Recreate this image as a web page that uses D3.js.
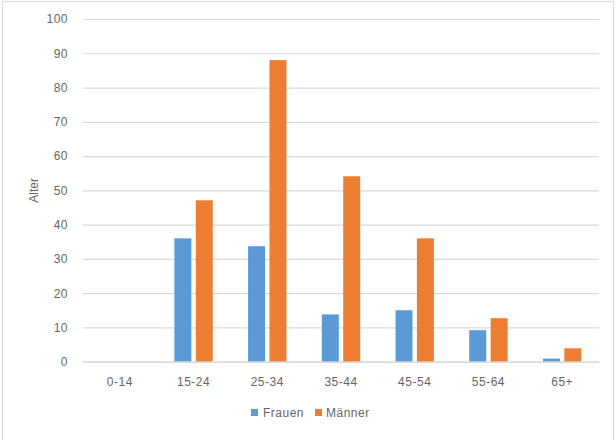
<!DOCTYPE html>
<html>
<head>
<meta charset="utf-8">
<script src="https://cdn.jsdelivr.net/npm/d3@7"></script>
<style>
  html, body { margin: 0; padding: 0; background: #fff; }
  svg { display: block; }
  text { font-family: "Liberation Sans", Arial, sans-serif; fill: #666; }
</style>
</head>
<body>
<svg id="chart" width="616" height="440"></svg>
<script>
const categories = ["0-14", "15-24", "25-34", "35-44", "45-54", "55-64", "65+"];
const seriesNames = ["Frauen", "Männer"];
const frauen = [0, 36, 33.7, 13.8, 15, 9.2, 0.9];
const maenner = [0, 47.1, 88, 54.1, 36, 12.7, 3.9];
const yTicks = [0, 10, 20, 30, 40, 50, 60, 70, 80, 90, 100];
const colors = ["#5b9bd5", "#ed7d31"];

(function () {
const svg = d3.select("#chart");

// outer border (bottom edge falls outside the visible area, as in the reference)
svg.append("rect")
  .attr("x", 2.5).attr("y", 1.5).attr("width", 611).attr("height", 445)
  .attr("fill", "none").attr("stroke", "#d9d9d9").attr("stroke-width", 1);

const plotLeft = 83, plotRight = 599, plotTop = 19, plotBottom = 361.7;

const x = d3.scaleBand().domain(categories).range([plotLeft, plotRight]).paddingInner(0).paddingOuter(0);
const groupW = 38.4;
const x1 = d3.scaleBand().domain(seriesNames)
  .range([(x.bandwidth() - groupW) / 2, (x.bandwidth() + groupW) / 2])
  .paddingInner(0.206).paddingOuter(0);
const y = d3.scaleLinear().domain([0, 100]).range([plotBottom, plotTop]);

// gridlines
const yAxis = d3.axisLeft(y).tickValues(yTicks).tickSize(-(plotRight - plotLeft)).tickPadding(15);
const gy = svg.append("g").attr("transform", `translate(${plotLeft},0)`).call(yAxis);
gy.select(".domain").remove();
gy.selectAll(".tick line").attr("stroke", "#d9d9d9").attr("stroke-width", 1.2);
gy.selectAll(".tick text")
  .attr("font-size", 12).attr("letter-spacing", 0.5)
  .style("font-family", "'Liberation Sans', Arial, sans-serif").attr("fill", "#666");

// bars
const data = categories.map((c, i) => ({ cat: c, vals: [frauen[i], maenner[i]] }));
const groups = svg.append("g").selectAll("g").data(data).join("g")
  .attr("transform", d => `translate(${x(d.cat)},0)`);
groups.selectAll("rect")
  .data(d => d.vals.map((v, j) => ({ name: seriesNames[j], v, j })))
  .join("rect")
  .attr("x", d => x1(d.name))
  .attr("width", x1.bandwidth())
  .attr("y", d => y(d.v))
  .attr("height", d => y(0) - y(d.v))
  .attr("fill", d => colors[d.j]);

// category axis
const xAxis = d3.axisBottom(x).tickSize(0).tickPadding(16);
const gx = svg.append("g").attr("transform", `translate(0,${plotBottom})`).call(xAxis);
gx.select(".domain").attr("stroke", "#d9d9d9").attr("stroke-width", 1.2);
gx.selectAll(".tick text")
  .attr("font-size", 12).attr("letter-spacing", 0.5)
  .style("font-family", "'Liberation Sans', Arial, sans-serif").attr("fill", "#666");

// y axis title
svg.append("text")
  .attr("transform", `translate(38,${(plotTop + plotBottom) / 2}) rotate(-90)`)
  .attr("text-anchor", "middle")
  .attr("font-size", 12)
  .text("Alter");

// legend
const legendPos = [{ sx: 251, tx: 263 }, { sx: 315, tx: 326 }];
const lg = svg.append("g");
seriesNames.forEach((name, i) => {
  lg.append("rect").attr("x", legendPos[i].sx).attr("y", 409).attr("width", 7).attr("height", 7).attr("fill", colors[i]);
  lg.append("text").attr("x", legendPos[i].tx).attr("y", 413).attr("dominant-baseline", "central")
    .attr("font-size", 12).attr("letter-spacing", 0.5).text(name);
});
})();
</script>
</body>
</html>
